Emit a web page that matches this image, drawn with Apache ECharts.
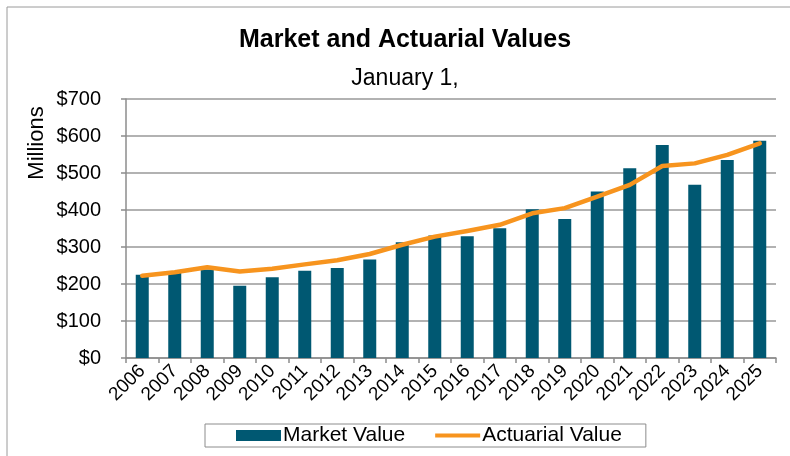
<!DOCTYPE html>
<html lang="en">

<head>
    <meta charset="UTF-8">
    <style>
        html, body { margin: 0; padding: 0; background: #fff; }
        #main { width: 790px; height: 456px; }
    </style>
    <title>Market and Actuarial Values</title>
</head>

<body>
    <div id="main"></div>

    <script src="https://cdn.jsdelivr.net/npm/echarts@6/dist/echarts.min.js"></script>
    <script>
        var years = ['2006', '2007', '2008', '2009', '2010', '2011', '2012', '2013', '2014', '2015',
                     '2016', '2017', '2018', '2019', '2020', '2021', '2022', '2023', '2024', '2025'];
        // millions of dollars
        var marketValue = [225, 230, 239, 195, 218, 236, 243, 266, 313, 331,
                           329, 351, 402, 376, 450, 513, 576, 468, 535, 587];
        var actuarialValue = [222, 232, 245, 234, 241, 253, 264, 281, 306, 328,
                              343, 360, 391, 405, 436, 468, 519, 526, 549, 580];
        var yTicks = [0, 700, 100];

        var font = 'Arial, "Liberation Sans", sans-serif';
        var myChart = echarts.init(document.getElementById('main'));

        var option = {
            backgroundColor: '#fff',
            textStyle: { fontFamily: font },
            title: [{
                text: 'Market and Actuarial Values',
                left: 400,
                textAlign: 'center',
                top: 23,
                textStyle: { fontSize: 25, fontWeight: 'bold', color: '#000', fontFamily: font }
            }, {
                text: 'January 1,',
                left: 400,
                textAlign: 'center',
                top: 62,
                textStyle: { fontSize: 23, fontWeight: 'normal', color: '#000', fontFamily: font }
            }],
            graphic: [{
                type: 'rect',
                shape: { x: 7, y: 7, width: 800, height: 460 },
                style: { fill: 'none', stroke: '#9a9a9a', lineWidth: 1 },
                silent: true
            }, {
                type: 'text',
                x: 37,
                y: 143,
                rotation: Math.PI / 2,
                style: {
                    text: 'Millions',
                    fontSize: 22,
                    fontFamily: font,
                    fill: '#000',
                    textAlign: 'center',
                    textVerticalAlign: 'middle'
                }
            }],
            legend: {
                left: 205,
                top: 424,
                padding: [1, 24, 1, 31],
                itemWidth: 45,
                itemHeight: 11,
                itemGap: 30,
                symbolKeepAspect: true,
                borderColor: '#8c8c8c',
                borderWidth: 1,
                textStyle: { fontSize: 21, color: '#000', fontFamily: font, padding: [0, 0, 0, -3] },
                data: [{
                    name: 'Market Value',
                    icon: 'rect',
                    itemStyle: { borderWidth: 0 }
                }, {
                    name: 'Actuarial Value',
                    icon: 'path://M0,0h45v4h-45z'
                }]
            },
            grid: {
                left: 126,
                right: 14,
                top: 99,
                bottom: 98,
                containLabel: false
            },
            xAxis: {
                type: 'category',
                data: years,
                axisLine: { lineStyle: { color: '#8c8c8c', width: 1.5 } },
                axisTick: { show: true, length: 5, lineStyle: { color: '#8c8c8c', width: 1.5 } },
                axisLabel: {
                    rotate: 45,
                    fontSize: 19,
                    color: '#000',
                    fontFamily: font,
                    margin: 10,
                    interval: 0
                }
            },
            yAxis: {
                type: 'value',
                min: yTicks[0],
                max: yTicks[1],
                interval: yTicks[2],
                axisLine: { show: true, lineStyle: { color: '#8c8c8c', width: 1.5 } },
                axisTick: { show: true, length: 5, lineStyle: { color: '#8c8c8c', width: 1.5 } },
                splitLine: { lineStyle: { color: '#999', width: 1.5 } },
                axisLabel: {
                    fontSize: 20,
                    color: '#000',
                    fontFamily: font,
                    margin: 25,
                    formatter: function (v) { return '$' + v; }
                }
            },
            series: [{
                name: 'Market Value',
                type: 'bar',
                data: marketValue,
                barWidth: 13,
                itemStyle: { color: '#005872' }
            }, {
                name: 'Actuarial Value',
                type: 'line',
                data: actuarialValue,
                symbol: 'none',
                lineStyle: { color: '#F7941E', width: 4.5, cap: 'round', join: 'round' },
                itemStyle: { color: '#F7941E' }
            }],
            animation: false
        };

        myChart.setOption(option);
    </script>
</body>

</html>
